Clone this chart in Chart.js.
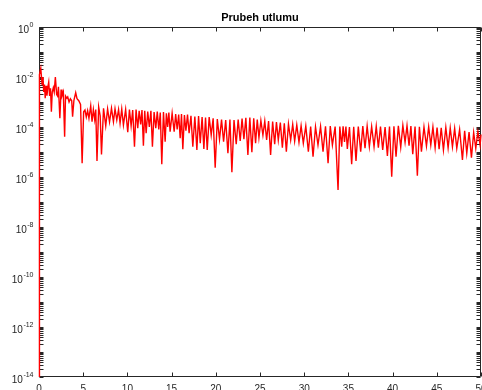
<!DOCTYPE html>
<html>
<head>
<meta charset="utf-8">
<script src="https://cdn.jsdelivr.net/npm/chart.js@4.4.1/dist/chart.umd.min.js"></script>
<style>
  html, body { margin: 0; padding: 0; background: #fff; }
  canvas { display: block; }
</style>
</head>
<body>
<canvas id="c" width="482" height="390"></canvas>
<script>
const chartTitle = 'Prubeh utlumu'
const xTicks = [0, 5, 10, 15, 20, 25, 30, 35, 40, 45, 50]
const yLabelExps = [0, -2, -4, -6, -8, -10, -12, -14]

// x positions
const xs = [
  0, 0.05, 0.2, 0.35, 0.45, 0.53, 0.62, 0.7, 0.8, 0.9, 1.0, 1.1, 1.2, 1.3, 1.4, 1.5, 1.62, 1.72, 1.85, 2.0,
  2.1, 2.2, 2.36, 2.5, 2.6, 2.75, 2.9, 3.0, 3.15, 3.25, 3.4, 3.55, 3.7, 3.8, 3.95, 4.15, 4.3, 4.5, 4.7, 4.88,
  5.05, 5.2, 5.35, 5.5, 5.65, 5.85, 6.0, 6.15, 6.3, 6.42, 6.56, 6.75, 6.92, 7.07, 7.3, 7.55, 7.76, 7.98, 8.2, 8.42,
  8.6, 8.8, 9.0, 9.17, 9.36, 9.55, 9.8, 10.04, 10.23, 10.42, 10.6, 10.8, 10.98, 11.17, 11.33, 11.5, 11.65, 11.81, 11.96, 12.12,
  12.3, 12.48, 12.66, 12.83, 13.02, 13.21, 13.38, 13.55, 13.72, 13.89, 14.08, 14.27, 14.41, 14.55, 14.69, 14.83, 15.06, 15.29, 15.46, 15.63,
  15.8, 15.97, 16.12, 16.27, 16.45, 16.62, 16.8, 16.98, 17.19, 17.4, 17.63, 17.86, 18.05, 18.24, 18.45, 18.65, 18.84, 19.03, 19.25, 19.48,
  19.7, 19.93, 20.17, 20.42, 20.65, 20.88, 21.12, 21.37, 21.6, 21.82, 22.06, 22.31, 22.53, 22.76, 22.97, 23.18, 23.4, 23.63, 23.85, 24.08,
  24.29, 24.5, 24.69, 24.88, 25.1, 25.33, 25.54, 25.75, 25.97, 26.2, 26.43, 26.66, 26.86, 27.07, 27.3, 27.53, 27.75, 27.98, 28.22, 28.47,
  28.7, 28.92, 29.16, 29.41, 29.65, 29.9, 30.18, 30.47, 30.73, 31.0, 31.28, 31.56, 31.85, 32.13, 32.41, 32.7, 32.95, 33.19, 33.5, 33.83,
  34.03, 34.24, 34.4, 34.56, 34.72, 34.88, 35.12, 35.37, 35.6, 35.86, 36.12, 36.39, 36.63, 36.88, 37.12, 37.37, 37.63, 37.9, 38.15, 38.39,
  38.63, 38.88, 39.15, 39.41, 39.65, 39.9, 40.15, 40.39, 40.65, 40.92, 41.16, 41.41, 41.63, 41.86, 42.07, 42.28, 42.54, 42.8, 43.03, 43.26,
  43.55, 43.83, 44.08, 44.32, 44.56, 44.81, 45.03, 45.26, 45.5, 45.75, 46.02, 46.28, 46.52, 46.77, 47.02, 47.26, 47.58, 47.9, 48.15, 48.39,
  48.65, 48.92, 49.17, 49.41, 49.65, 49.9, 50.0
]

// attenuation, as powers of ten
const exps = [
  -16, -1.9, -1.65, -2.3, -2.0, -2.6, -2.3, -2.85, -2.35, -2.75, -2.4, -2.2, -2.76, -2.45, -3.39, -2.6, -2.43, -2.6, -2.0, -2.7,
  -2.76, -2.39, -3.65, -2.5, -2.76, -2.6, -4.39, -2.76, -2.85, -2.8, -3.0, -2.87, -2.95, -3.59, -2.93, -2.63, -2.87, -2.95, -3.1, -5.45,
  -3.39, -3.32, -3.6, -3.35, -3.65, -3.15, -3.79, -3.3, -3.7, -3.3, -5.36, -3.2, -3.55, -5.1, -3.25, -3.95, -3.28, -3.8, -3.25, -3.79,
  -3.27, -3.72, -3.3, -3.85, -3.28, -3.92, -3.3, -4.21, -3.3, -3.95, -3.32, -4.79, -3.3, -4.05, -3.35, -3.9, -3.32, -4.75, -3.35, -4.25,
  -3.38, -4.0, -3.35, -4.79, -3.4, -4.05, -3.38, -4.1, -3.42, -5.49, -3.4, -4.59, -3.45, -4.0, -3.42, -4.19, -3.45, -4.19, -3.48, -4.1,
  -3.5, -4.45, -3.48, -4.89, -3.52, -4.15, -3.5, -4.25, -3.55, -4.79, -3.58, -4.92, -3.56, -4.65, -3.6, -4.88, -3.62, -4.92, -3.6, -4.32,
  -3.65, -5.63, -3.68, -4.49, -3.7, -4.59, -3.72, -5.05, -3.7, -5.81, -3.72, -4.69, -3.7, -4.56, -3.66, -4.49, -3.63, -5.12, -3.62, -5.01,
  -3.65, -4.65, -3.7, -4.43, -3.74, -4.32, -3.76, -4.52, -3.76, -5.12, -3.78, -4.69, -3.8, -4.52, -3.82, -4.83, -3.85, -4.99, -3.88, -4.52,
  -3.9, -4.56, -3.92, -4.61, -3.95, -4.65, -3.96, -4.99, -3.98, -5.19, -4.0, -4.72, -3.98, -4.99, -3.97, -5.45, -3.96, -4.72, -3.98, -6.52,
  -3.98, -4.79, -3.97, -4.6, -3.98, -4.88, -4.0, -5.49, -3.99, -5.36, -3.98, -4.99, -3.96, -4.85, -3.97, -4.79, -3.98, -4.79, -3.97, -4.83,
  -3.98, -4.92, -4.0, -5.16, -3.98, -5.99, -3.97, -5.19, -3.95, -4.81, -3.94, -4.61, -3.95, -4.75, -3.96, -5.09, -3.98, -5.95, -3.99, -4.99,
  -4.0, -4.76, -3.99, -4.72, -4.0, -4.83, -4.02, -4.89, -4.03, -4.92, -4.02, -4.83, -4.04, -4.79, -4.06, -4.85, -4.1, -5.32, -4.15, -5.05,
  -4.2, -5.23, -4.22, -4.85, -4.18, -4.72, -4.3
]

const points = xs.map((x, i) => ({ x: x, y: Math.pow(10, exps[i]) }))

const axisColor = '#262626'
const fontFamily = '"Liberation Sans", Arial, Helvetica, sans-serif'

// MATLAB style box, inward ticks, tick labels and title
const matlabFrame = {
  id: 'matlabFrame',
  beforeDatasetsDraw(chart) {
    const { ctx, chartArea: a, scales } = chart
    const sx = scales.x, sy = scales.y
    const L = a.left + 0.5, R = a.right - 0.5, T = a.top + 0.5, B = a.bottom - 0.5
    ctx.save()
    ctx.strokeStyle = axisColor
    ctx.lineWidth = 1
    ctx.beginPath()
    ctx.rect(L, T, R - L, B - T)
    for (const v of xTicks) {
      const px = Math.round(sx.getPixelForValue(v)) + 0.5
      ctx.moveTo(px, B); ctx.lineTo(px, B - 4)
      ctx.moveTo(px, T); ctx.lineTo(px, T + 4)
    }
    for (let e = -14; e <= 0; e++) {
      for (let m = 1; m <= 9; m++) {
        if (e === 0 && m > 1) break
        const py = Math.round(sy.getPixelForValue(m * Math.pow(10, e))) + 0.5
        ctx.moveTo(L, py); ctx.lineTo(L + 4, py)
        ctx.moveTo(R, py); ctx.lineTo(R - 4, py)
      }
    }
    ctx.stroke()

    ctx.fillStyle = axisColor

    // x labels (the canvas cuts them off, as in the original)
    ctx.font = '10px ' + fontFamily
    ctx.textAlign = 'center'
    ctx.textBaseline = 'alphabetic'
    for (const v of xTicks) {
      ctx.fillText(String(v), sx.getPixelForValue(v), a.bottom + 15)
    }

    // y labels as 10^n
    ctx.textBaseline = 'middle'
    ctx.textAlign = 'left'
    for (const e of yLabelExps) {
      const py = sy.getPixelForValue(Math.pow(10, e))
      const ex = String(e)
      ctx.font = '10px ' + fontFamily
      const baseW = ctx.measureText('10').width
      ctx.font = '7px ' + fontFamily
      const expW = ctx.measureText(ex).width
      const x0 = a.left - 6 - expW - baseW
      ctx.font = '10px ' + fontFamily
      ctx.fillText('10', x0, py + 3)
      ctx.font = '7px ' + fontFamily
      ctx.fillText(ex, x0 + baseW + 0.5, py - 2)
    }

    // title
    ctx.font = 'bold 11px ' + fontFamily
    ctx.fillStyle = '#000'
    ctx.textAlign = 'center'
    ctx.textBaseline = 'middle'
    ctx.fillText(chartTitle, (a.left + a.right) / 2, 18)
    ctx.restore()
  }
}

new Chart(document.getElementById('c').getContext('2d'), {
  type: 'line',
  data: {
    datasets: [{
      data: points,
      borderColor: '#ff0000',
      borderWidth: 1.4,
      pointRadius: 0,
      tension: 0,
      fill: false,
      clip: { left: 2, top: 0, right: 1, bottom: 0 }
    }]
  },
  options: {
    responsive: false,
    devicePixelRatio: 1,
    animation: false,
    layout: { padding: { left: 39, top: 27, right: 1, bottom: 13 } },
    plugins: { legend: { display: false }, title: { display: false }, tooltip: { enabled: false } },
    scales: {
      x: {
        type: 'linear',
        min: 0,
        max: 50,
        afterFit: s => { s.height = 0 },
        grid: { display: false },
        border: { display: false },
        ticks: { display: false }
      },
      y: {
        type: 'logarithmic',
        min: 1e-14,
        max: 1,
        afterFit: s => { s.width = 0 },
        grid: { display: false },
        border: { display: false },
        ticks: { display: false }
      }
    }
  },
  plugins: [matlabFrame]
})
</script>
</body>
</html>
